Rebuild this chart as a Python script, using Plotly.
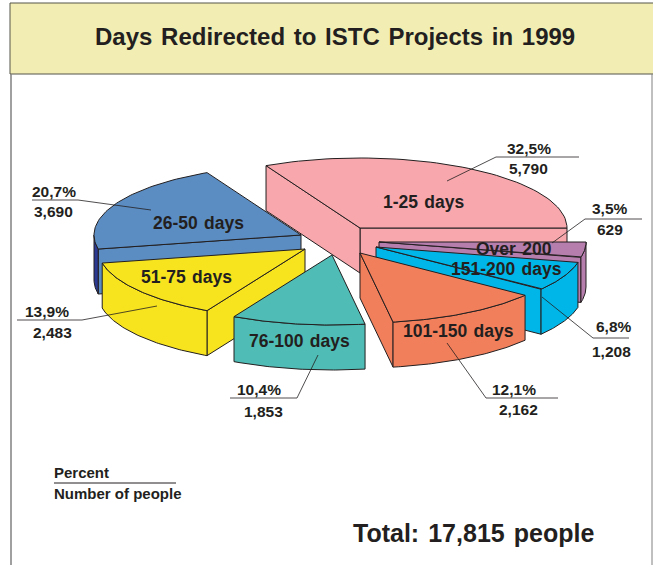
import math
import plotly.graph_objects as go

# ---- data ----
categories = ["1-25 days", "26-50 days", "51-75 days", "76-100 days",
              "101-150 days", "151-200 days", "Over 200"]
people = [5790, 3690, 2483, 1853, 2162, 1208, 629]
percent_labels = ["32,5%", "20,7%", "13,9%", "10,4%", "12,1%", "6,8%", "3,5%"]
people_labels = ["5,790", "3,690", "2,483", "1,853", "2,162", "1,208", "629"]
title = "Days Redirected to ISTC Projects in 1999"
total_label = "Total: 17,815 people"
legend_top = "Percent"
legend_bottom = "Number of people"

# ---- styling and layout (an exploded, tilted pie) ----
W, H = 653, 565
RX, RY, DEPTH = 207, 70, 45
CENTER = (340, 245)
pull = [(20, -17), (-39, -10), (-35, 4), (-8, 10), (20, 8), (36, 2), (39, -3)]
top_colors = ["#F8A8AD", "#5B8DC3", "#F7E31E", "#4FBDB5", "#F27F5B", "#00B6E8", "#B57EAD"]
side_colors = ["#F8A8AD", "#2B3990", "#F7E31E", "#4FBDB5", "#F27F5B", "#00B6E8", "#B57EAD"]
face_colors = top_colors
draw_order = [0, 1, 6, 5, 4, 2, 3]
INK = "#231F20"
FONT = "Liberation Sans"

label_pos = [(424, 202), (198, 223), (186, 277), (299, 341), (458, 331), (506, 269), (514, 249)]
value_pos = [((529, 148), (528, 168)), ((54, 191), (53, 211)), ((47, 311), (52, 332)),
             ((259, 389), (263, 411)), ((514, 389), (518, 409)), ((614, 326), (611, 351)),
             ((610, 208), (610, 229))]
leaders = [[(447, 181), (496, 157), (579, 157)],
           [(151, 210), (78, 200), (32, 200)],
           [(157, 306), (82, 320), (17, 320)],
           [(318, 355), (297, 398), (230, 398)],
           [(447, 343), (486, 398), (558, 398)],
           [(542, 297), (593, 338), (629, 338)],
           [(552, 243), (585, 219), (642, 219)]]

# ---- build ----
fig = go.Figure()
total = sum(people)
spans = []
acc = 0.0
for v in people:
    spans.append((acc, acc + v / total * 360))
    acc += v / total * 360


def rim(cx, cy, deg, dy=0):
    r = math.radians(deg)
    return cx + RX * math.cos(r), cy - RY * math.sin(r) + dy


def poly(points, color):
    xs = [p[0] for p in points] + [points[0][0]]
    ys = [p[1] for p in points] + [points[0][1]]
    fig.add_trace(go.Scatter(x=xs, y=ys, mode="lines", fill="toself", fillcolor=color,
                             line=dict(color=INK, width=1), hoverinfo="skip",
                             showlegend=False))


def arc(cx, cy, a, b, dy=0, n=60):
    return [rim(cx, cy, a + (b - a) * i / n, dy) for i in range(n + 1)]


for i in draw_order:
    a, b = spans[i]
    cx, cy = CENTER[0] + pull[i][0], CENTER[1] + pull[i][1]
    for deg, visible in ((a, math.cos(math.radians(a)) > 0), (b, math.cos(math.radians(b)) < 0)):
        if visible:
            p = rim(cx, cy, deg)
            poly([(cx, cy), p, (p[0], p[1] + DEPTH), (cx, cy + DEPTH)], face_colors[i])
    lo, hi = max(a, 180), min(b, 360)
    if lo < hi:
        poly(arc(cx, cy, lo, hi) + arc(cx, cy, hi, lo, DEPTH), side_colors[i])
    poly([(cx, cy)] + arc(cx, cy, a, b), top_colors[i])

shapes = [
    dict(type="rect", x0=10, y0=3, x1=W + 2, y1=74, fillcolor="#F2EEB3",
         line=dict(color="#55554A", width=1), layer="below"),
    dict(type="line", x0=11, y0=74, x1=11, y1=H, line=dict(color="#808080", width=1.5)),
    dict(type="line", x0=652, y0=74, x1=652, y1=H, line=dict(color="#808080", width=1)),
    dict(type="line", x0=54, y0=483, x1=176, y1=483, line=dict(color=INK, width=1)),
]
fig.update_layout(shapes=shapes)

for pts in leaders:
    fig.add_trace(go.Scatter(x=[p[0] for p in pts], y=[p[1] for p in pts], mode="lines",
                             line=dict(color=INK, width=0.8), hoverinfo="skip",
                             showlegend=False))


def text(x, y, s, size, anchor="center", family=FONT):
    fig.add_annotation(x=x, y=y, text="<b>" + s + "</b>", showarrow=False, xanchor=anchor,
                       yanchor="middle", font=dict(family=family, size=size, color=INK))


for name, pos in zip(categories, label_pos):
    text(pos[0], pos[1], name.replace(" ", "\u00a0\u200a"), 17.5)
for pct, cnt, (p1, p2) in zip(percent_labels, people_labels, value_pos):
    text(p1[0], p1[1], pct, 15.5)
    text(p2[0], p2[1], cnt, 15.5)
text(335, 36, title.replace(" ", "\u00a0\u200a"), 24)
text(473, 533, total_label.replace(" ", "\u00a0\u200a"), 25)
text(52, 472, legend_top, 15, "left")
text(52, 493, legend_bottom, 15, "left")

fig.update_layout(
    width=W, height=H, margin=dict(l=0, r=0, t=0, b=0),
    paper_bgcolor="white", plot_bgcolor="white",
    xaxis=dict(range=[0, W], visible=False, fixedrange=True),
    yaxis=dict(range=[H, 0], visible=False, fixedrange=True),
)
fig.write_html("out.html", config={"displayModeBar": False},
               post_script="document.body.style.margin='0';document.documentElement.style.overflow='hidden';")
